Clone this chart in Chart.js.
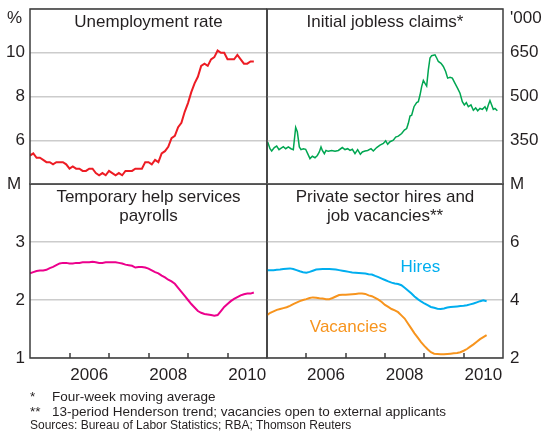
<!DOCTYPE html>
<html>
<head>
<meta charset="utf-8">
<script src="https://cdn.jsdelivr.net/npm/chart.js@4.4.0/dist/chart.umd.min.js"></script>
<style>
  body { margin: 0; background: #fff; }
  #wrap { position: relative; width: 542px; height: 437px; font-family: "Liberation Sans", Arial, sans-serif; color: #231f20; }
  canvas { position: absolute; left: 0; top: 0; }
  .unit { position: absolute; font-size: 17px; line-height: 20px; }
  .note { position: absolute; font-size: 13.5px; line-height: 15px; white-space: nowrap; }
  .note.src { font-size: 12px; line-height: 14px; }
</style>
</head>
<body>
<div id="wrap">
  <canvas id="unemp" width="542" height="437"></canvas>
  <canvas id="claims" width="542" height="437"></canvas>
  <canvas id="temp" width="542" height="437"></canvas>
  <canvas id="jolts" width="542" height="437"></canvas>

  <div class="unit" style="left:7px; top:8px">%</div>
  <div class="unit" style="left:510px; top:8px">'000</div>
  <div class="unit" style="left:7px; top:174px">M</div>
  <div class="unit" style="left:510px; top:174px">M</div>

  <div class="note" style="left:30px; top:389px">*</div>
  <div class="note" style="left:52px; top:389px">Four-week moving average</div>
  <div class="note" style="left:30px; top:404px">**</div>
  <div class="note" style="left:52px; top:404px">13-period Henderson trend; vacancies open to external applicants</div>
  <div class="note src" style="left:30px; top:418px">Sources: Bureau of Labor Statistics; RBA; Thomson Reuters</div>
</div>
<script>
// monthly data start Jan 2005
const startYear = 2005;

const unempRate = [
  5.3, 5.4, 5.2, 5.2, 5.1, 5.0, 5.0, 4.9, 5.0, 5.0, 5.0, 4.9,
  4.7, 4.8, 4.7, 4.7, 4.6, 4.6, 4.7, 4.7, 4.5, 4.4, 4.5, 4.4,
  4.6, 4.5, 4.4, 4.5, 4.4, 4.6, 4.6, 4.6, 4.7, 4.7, 4.7, 5.0,
  5.0, 4.9, 5.1, 5.0, 5.4, 5.5, 5.7, 6.1, 6.2, 6.6, 6.8, 7.3,
  7.7, 8.2, 8.6, 8.9, 9.4, 9.5, 9.4, 9.7, 9.8, 10.1, 10.0, 10.0,
  9.7, 9.7, 9.7, 9.9, 9.7, 9.5, 9.5, 9.6, 9.6
];

const claimsDates = [
  2005.017, 2005.076, 2005.119, 2005.186, 2005.246, 2005.305, 2005.415, 2005.475, 2005.542, 2005.61,
  2005.669, 2005.729, 2005.771, 2005.822, 2005.864, 2005.924, 2005.983, 2006.034, 2006.093, 2006.153,
  2006.22, 2006.28, 2006.33, 2006.373, 2006.407, 2006.458, 2006.5, 2006.559, 2006.644, 2006.729,
  2006.814, 2006.915, 2006.983, 2007.051, 2007.11, 2007.17, 2007.237, 2007.305, 2007.373, 2007.424,
  2007.492, 2007.56, 2007.644, 2007.703, 2007.788, 2007.873, 2007.958, 2008.017, 2008.068, 2008.127,
  2008.212, 2008.271, 2008.339, 2008.424, 2008.492, 2008.551, 2008.593, 2008.636, 2008.678, 2008.737,
  2008.805, 2008.847, 2008.89, 2008.932, 2008.975, 2009.017, 2009.059, 2009.102, 2009.144, 2009.186,
  2009.271, 2009.314, 2009.356, 2009.424, 2009.483, 2009.542, 2009.593, 2009.653, 2009.712, 2009.78,
  2009.847, 2009.907, 2009.966, 2010.017, 2010.068, 2010.119, 2010.186, 2010.246, 2010.305, 2010.356,
  2010.415, 2010.475, 2010.542, 2010.585, 2010.627, 2010.669, 2010.712, 2010.754, 2010.797, 2010.856
];
const claimsValues = [
  344, 321, 313, 325, 330, 318, 328, 321, 327, 321,
  318, 394, 379, 327, 318, 321, 319, 304, 287, 295,
  290, 298, 310, 327, 315, 304, 315, 312, 315, 312,
  315, 325, 318, 321, 315, 319, 304, 318, 302, 310,
  313, 315, 321, 313, 325, 333, 339, 348, 336, 345,
  350, 361, 364, 373, 385, 390, 408, 433, 436, 465,
  479, 482, 505, 534, 555, 545, 536, 591, 632, 640,
  643, 632, 620, 614, 603, 586, 563, 566, 563, 545,
  528, 511, 482, 471, 479, 465, 471, 453, 461, 451,
  459, 456, 465, 453, 471, 486, 471, 456, 459, 451
];

const tempHelp = [
  2.46, 2.48, 2.50, 2.51, 2.51, 2.52, 2.55, 2.57, 2.60, 2.63, 2.64, 2.64,
  2.63, 2.63, 2.64, 2.64, 2.65, 2.65, 2.65, 2.66, 2.65, 2.64, 2.64, 2.65,
  2.65, 2.65, 2.65, 2.64, 2.63, 2.61, 2.60, 2.59, 2.56, 2.57, 2.57, 2.56,
  2.54, 2.51, 2.48, 2.46, 2.42, 2.39, 2.35, 2.32, 2.28, 2.21, 2.14, 2.07,
  2.00, 1.93, 1.87, 1.81, 1.78, 1.76, 1.75, 1.74, 1.73, 1.74, 1.81, 1.88,
  1.93, 1.98, 2.02, 2.05, 2.08, 2.10, 2.11, 2.11, 2.13
];

const hires = [
  5.03, 5.03, 5.03, 5.04, 5.05, 5.07, 5.08, 5.09, 5.07, 5.03, 4.99, 4.96,
  4.94, 4.97, 5.01, 5.05, 5.06, 5.07, 5.07, 5.07, 5.06, 5.05, 5.03, 5.01,
  4.99, 4.97, 4.95, 4.94, 4.93, 4.92, 4.91, 4.89, 4.88, 4.83, 4.79, 4.74,
  4.69, 4.64, 4.60, 4.57, 4.55, 4.51, 4.42, 4.33, 4.23, 4.12, 4.03, 3.95,
  3.88, 3.82, 3.76, 3.73, 3.70, 3.69, 3.71, 3.74, 3.76, 3.77, 3.78, 3.79,
  3.80, 3.82, 3.85, 3.88, 3.92, 3.96, 3.99, 3.96
];
const vacancies = [
  3.48, 3.56, 3.61, 3.66, 3.69, 3.72, 3.75, 3.80, 3.86, 3.91, 3.96, 4.00,
  4.03, 4.07, 4.09, 4.08, 4.06, 4.05, 4.03, 4.03, 4.07, 4.12, 4.17, 4.18,
  4.18, 4.19, 4.20, 4.21, 4.22, 4.22, 4.21, 4.16, 4.13, 4.07, 4.01, 3.93,
  3.83, 3.76, 3.69, 3.64, 3.58, 3.47, 3.36, 3.19, 3.02, 2.85, 2.70, 2.55,
  2.42, 2.30, 2.20, 2.15, 2.14, 2.13, 2.13, 2.14, 2.15, 2.16, 2.17, 2.20,
  2.25, 2.31, 2.39, 2.47, 2.56, 2.65, 2.72, 2.79
];

const labelYears = [2006, 2008, 2010];
const tickYears = [2006, 2007, 2008, 2009, 2010];

const textColor = '#231f20';
const frameColor = '#3c3c3c';
const font = '"Liberation Sans", Arial, sans-serif';

function monthly(values) {
  return values.map((v, i) => ({ x: startYear + i / 12, y: v }));
}

const panelDecor = {
  id: 'panelDecor',
  afterDatasetsDraw(chart, args, opts) {
    const { ctx, chartArea: a, scales } = chart;
    ctx.save();
    ctx.strokeStyle = frameColor;
    ctx.lineWidth = 1.5;
    if (opts.tickYears) {
      opts.tickYears.forEach(yr => {
        const px = Math.round(scales.x.getPixelForValue(yr));
        ctx.beginPath();
        ctx.moveTo(px, a.bottom);
        ctx.lineTo(px, a.bottom - 5);
        ctx.stroke();
      });
    }
    ctx.strokeRect(a.left, a.top, a.right - a.left, a.bottom - a.top);
    ctx.font = '17px ' + font;
    ctx.textAlign = 'center';
    ctx.textBaseline = 'alphabetic';
    ctx.fillStyle = textColor;
    opts.title.forEach((line, i) => {
      ctx.fillText(line, (a.left + a.right) / 2, a.top + 18 + i * 19);
    });
    (opts.labels || []).forEach(l => {
      ctx.fillStyle = l.color;
      ctx.fillText(l.text, scales.x.getPixelForValue(l.x), scales.y.getPixelForValue(l.y));
    });
    ctx.restore();
  }
};

function makePanel(id, cfg) {
  const isRight = cfg.side === 'right';
  return new Chart(document.getElementById(id), {
    type: 'line',
    data: { datasets: cfg.datasets },
    plugins: [panelDecor],
    options: {
      responsive: false,
      animation: false,
      events: [],
      layout: { padding: cfg.padding },
      elements: { point: { radius: 0 }, line: { tension: 0 } },
      scales: {
        x: {
          type: 'linear',
          min: 2005,
          max: 2011,
          display: cfg.showX,
          grid: { display: false, drawTicks: false },
          border: { display: false },
          afterBuildTicks: s => { s.ticks = labelYears.map(y => ({ value: y + 0.5 })); },
          ticks: {
            autoSkip: false,
            maxRotation: 0,
            padding: 7,
            color: textColor,
            font: { family: font, size: 17 },
            callback: v => String(Math.floor(v))
          },
          afterFit: s => {
            s.height = cfg.showX ? 30 : 0;
            s.paddingLeft = 0;
            s.paddingRight = 0;
          }
        },
        y: {
          position: cfg.side,
          min: cfg.yMin,
          max: cfg.yMax,
          grid: { color: '#cccccc', lineWidth: 1.5, drawTicks: false },
          border: { display: false },
          ticks: {
            stepSize: cfg.yStep,
            padding: isRight ? 7 : 5,
            color: textColor,
            font: { family: font, size: 17 },
            callback: v => cfg.hideTicks.includes(v) ? '' : String(v)
          },
          afterFit: s => {
            s.width = isRight ? 39 : 30;
            s.paddingTop = 0;
            s.paddingBottom = 0;
          }
        }
      },
      plugins: {
        legend: { display: false },
        tooltip: { enabled: false },
        panelDecor: { title: cfg.title, tickYears: cfg.showX ? tickYears : null, labels: cfg.labels }
      }
    }
  });
}

makePanel('unemp', {
  side: 'left', showX: false,
  padding: { left: 0, top: 9, right: 275, bottom: 253 },
  yMin: 4, yMax: 12, yStep: 2, hideTicks: [4, 12],
  title: ['Unemployment rate'],
  datasets: [{ data: monthly(unempRate), borderColor: '#ed1c24', borderWidth: 2 }]
});

makePanel('claims', {
  side: 'right', showX: false,
  padding: { left: 267, top: 9, right: 0, bottom: 253 },
  yMin: 200, yMax: 800, yStep: 150, hideTicks: [200, 800],
  title: ['Initial jobless claims*'],
  datasets: [{
    data: claimsDates.map((d, i) => ({ x: d, y: claimsValues[i] })),
    borderColor: '#00a651', borderWidth: 1.5
  }]
});

makePanel('temp', {
  side: 'left', showX: true,
  padding: { left: 0, top: 184, right: 275, bottom: 49 },
  yMin: 1, yMax: 4, yStep: 1, hideTicks: [4],
  title: ['Temporary help services', 'payrolls'],
  datasets: [{ data: monthly(tempHelp), borderColor: '#ec008c', borderWidth: 2 }]
});

makePanel('jolts', {
  side: 'right', showX: true,
  padding: { left: 267, top: 184, right: 0, bottom: 49 },
  yMin: 2, yMax: 8, yStep: 2, hideTicks: [8],
  title: ['Private sector hires and', 'job vacancies**'],
  labels: [
    { text: 'Hires', x: 2008.9, y: 4.98, color: '#00aeef' },
    { text: 'Vacancies', x: 2007.07, y: 2.89, color: '#f7941d' }
  ],
  datasets: [
    { data: monthly(hires), borderColor: '#00aeef', borderWidth: 2 },
    { data: monthly(vacancies), borderColor: '#f7941d', borderWidth: 2 }
  ]
});
</script>
</body>
</html>
